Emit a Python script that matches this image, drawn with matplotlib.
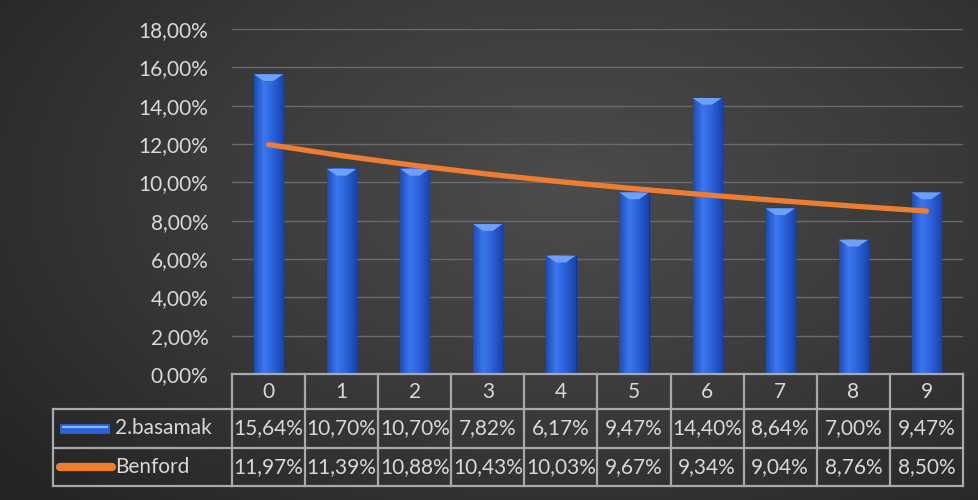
import matplotlib
matplotlib.use("Agg")
import matplotlib.pyplot as plt
import numpy as np
from matplotlib.transforms import blended_transform_factory
from matplotlib.colors import LinearSegmentedColormap

# data
digits = ["0", "1", "2", "3", "4", "5", "6", "7", "8", "9"]
basamak = [15.64, 10.70, 10.70, 7.82, 6.17, 9.47, 14.40, 8.64, 7.00, 9.47]
benford = [11.97, 11.39, 10.88, 10.43, 10.03, 9.67, 9.34, 9.04, 8.76, 8.50]
series_names = ["2.basamak", "Benford"]
yticks = [0, 2, 4, 6, 8, 10, 12, 14, 16, 18]

plt.rcParams["font.family"] = ["Lato", "DejaVu Sans"]
TXT = "#d9d9d9"
GRID = "#6a6a6a"
BORDER = "#a9a9a9"
BLUE = "#2c62d8"
ORANGE = "#ed7d31"
FS = 15

W, H = 979, 500
fig = plt.figure(figsize=(W / 100, H / 100), dpi=100)

# --- background: soft radial gradient ---
bg = fig.add_axes([0, 0, 1, 1], zorder=-10)
yy, xx = np.mgrid[0:1:200j, 0:1:400j]
r = np.sqrt(((xx - 0.58) / 0.75) ** 2 + ((yy - 0.62) / 0.9) ** 2)
bg_cmap = LinearSegmentedColormap.from_list("bg", ["#4c4c4c", "#3a3a3a", "#242424"])
bg.imshow(np.clip(r, 0, 1), cmap=bg_cmap, aspect="auto", extent=[0, 1, 0, 1], origin="lower")
bg.axis("off")

# --- plot area (pixel layout -> figure fractions) ---
left, right, top, bottom = 232, 963, 29, 374
ax = fig.add_axes([left / W, 1 - bottom / H, (right - left) / W, (bottom - top) / H])
ax.set_facecolor("none")
for s in ax.spines.values():
    s.set_visible(False)
ax.set_xticks([])
ax.set_yticks(yticks)
ax.set_yticklabels([f"{v:.2f}%".replace(".", ",") for v in yticks], color=TXT, fontsize=FS)
ax.tick_params(axis="y", length=0, pad=17)
for v in yticks[1:]:
    ax.axhline(v, color=GRID, lw=1, zorder=0)

x = np.arange(len(digits))
bw = 0.4
# bars with a simple horizontal shading
shade = LinearSegmentedColormap.from_list("bar", ["#1d4cb8", "#3a78f0", "#2a5fd6", "#1a44a8"])
grad = np.linspace(0, 1, 50).reshape(1, -1)
for xi, v in zip(x, basamak):
    ax.bar(xi, v, width=bw, color=BLUE, edgecolor="#16358a", lw=1, zorder=2)
    ax.imshow(grad, cmap=shade, aspect="auto", zorder=2.1,
              extent=[xi - bw / 2, xi + bw / 2, 0, v])
    # lighter bevel on the top of each bar
    ax.fill([xi - bw / 2, xi + bw / 2, xi + bw / 6, xi - bw / 6],
            [v, v, v - 0.35, v - 0.35], color="#6fa0f5", zorder=2.2, lw=0)
ax.set_xlim(-0.5, len(digits) - 0.5)
ax.set_ylim(0, 18)

ax.plot(x, benford, color=ORANGE, lw=3.8, solid_capstyle="round", zorder=3)

# --- data table under the axes ---
tr = blended_transform_factory(ax.transData, ax.transAxes)
ph = bottom - top
row_edges = [0, -35 / ph, -74 / ph, -112 / ph]
leg_left = -0.5 - (left - 53) / ((right - left) / len(digits))

line_kw = dict(color=BORDER, lw=1.6, transform=tr, clip_on=False, zorder=5)
ax.plot([-0.5, len(digits) - 0.5], [row_edges[0]] * 2, **line_kw)
for ye in row_edges[1:]:
    ax.plot([leg_left, len(digits) - 0.5], [ye] * 2, **line_kw)
for xe in np.arange(-0.5, len(digits), 1.0):
    ax.plot([xe, xe], [row_edges[0], row_edges[3]], **line_kw)
ax.plot([leg_left, leg_left], [row_edges[1], row_edges[3]], **line_kw)

def mid(i):
    return (row_edges[i] + row_edges[i + 1]) / 2

for xi, d in zip(x, digits):
    ax.text(xi, mid(0), d, transform=tr, ha="center", va="center", color=TXT, fontsize=FS)
for xi, v in zip(x, basamak):
    ax.text(xi, mid(1), f"{v:.2f}%".replace(".", ","), transform=tr, ha="center",
            va="center", color=TXT, fontsize=FS)
for xi, v in zip(x, benford):
    ax.text(xi, mid(2), f"{v:.2f}%".replace(".", ","), transform=tr, ha="center",
            va="center", color=TXT, fontsize=FS)

# legend keys inside the table
cw = (right - left) / len(digits)
kx0 = leg_left + 7 / cw
kx1 = leg_left + 57 / cw
ax.plot([kx0, kx1], [mid(1)] * 2, color=BLUE, lw=7, transform=tr, clip_on=False,
        solid_capstyle="butt", zorder=6)
ax.plot([kx0 + 3 / cw, kx1 - 3 / cw], [mid(1) + 1.5 / ph] * 2, color="#8fb6f7", lw=1.5,
        transform=tr, clip_on=False, zorder=7)
ax.plot([kx0, kx1 + 2 / cw], [mid(2)] * 2, color=ORANGE, lw=6, transform=tr,
        clip_on=False, solid_capstyle="round", zorder=6)
ax.text(leg_left + 62 / cw, mid(1), series_names[0], transform=tr, ha="left",
        va="center", color=TXT, fontsize=FS)
ax.text(leg_left + 62 / cw, mid(2), series_names[1], transform=tr, ha="left",
        va="center", color=TXT, fontsize=FS)

fig.savefig("out.png", dpi=100)
